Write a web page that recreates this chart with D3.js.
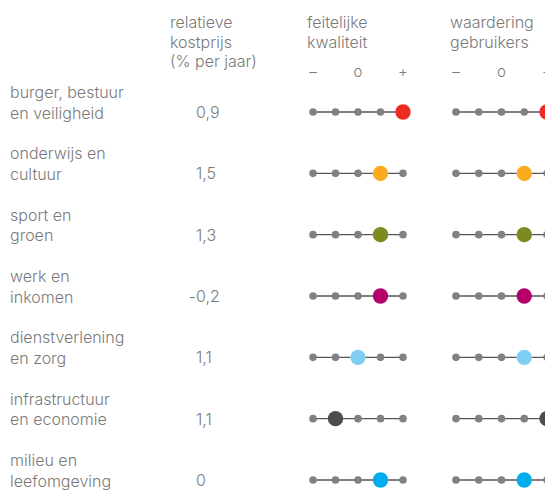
<!DOCTYPE html>
<html><head><meta charset="utf-8">
<script src="https://cdn.jsdelivr.net/npm/d3@7"></script>
<style>body{margin:0;background:#fff}svg{display:block}text{font-family:Inter,"Open Sans",sans-serif;fill:#7a7a7a;font-weight:300}</style>
</head><body><div id="chart"></div>
<script>
const categories = [
  ["burger, bestuur","en veiligheid"],
  ["onderwijs en","cultuur"],
  ["sport en","groen"],
  ["werk en","inkomen"],
  ["dienstverlening","en zorg"],
  ["infrastructuur","en economie"],
  ["milieu en","leefomgeving"]
];
const kostprijs = [0.9, 1.5, 1.3, -0.2, 1.1, 1.1, 0];
const kwaliteit = [5, 4, 4, 4, 3, 2, 4];
const waardering = [5, 4, 4, 4, 4, 5, 4];
const colors = ["#ee2a24","#fbaa1f","#7d8b1e","#b5006b","#7ecef4","#4d4d4f","#00aeef"];
const scaleSteps = [1,2,3,4,5];
const scaleTicks = ["–","o","+"];
const headers = [["relatieve","kostprijs","(% per jaar)"],["feitelijke","kwaliteit"],["waardering","gebruikers"]];

const W = 545, H = 491;
const svg = d3.select("#chart").append("svg").attr("width", W).attr("height", H);

const y = d3.scalePoint().domain(d3.range(categories.length)).range([112, 480]);
const xK = d3.scalePoint().domain(scaleSteps).range([313, 403]);
const xW = d3.scalePoint().domain(scaleSteps).range([456, 547]);
const fmt = v => (v < 0 ? "-" : "") + d3.format(v === 0 ? "d" : ".1f")(Math.abs(v)).replace(".", ",");
const FS = 16;

function multiline(sel, x, y0, lines, dy) {
  lines.forEach((s, j) => {
    sel.append("text").attr("x", x).attr("y", y0 + j * dy).attr("font-size", FS).text(s);
  });
}

// headers
const hx = [170, 307, 450];
headers.forEach((lines, i) => multiline(svg, hx[i], 28, lines, 19.6));
[xK, xW].forEach(sc => {
  [1, 3, 5].forEach((p, i) => {
    svg.append("text").attr("x", sc(p)).attr("y", 77).attr("text-anchor", "middle")
      .attr("font-size", 15).text(scaleTicks[i]);
  });
});

// row labels and values
categories.forEach((lines, i) => {
  const g = svg.append("g");
  multiline(g, 10, y(i) - 14, lines, 20.5);
  const v = kostprijs[i];
  const s = fmt(v);
  if (v < 0) {
    g.append("text").attr("x", 196).attr("y", y(i) + 6).attr("font-size", FS).attr("text-anchor", "end").text("-");
    g.append("text").attr("x", 196).attr("y", y(i) + 6).attr("font-size", FS).text(s.slice(1));
  } else g.append("text").attr("x", 196).attr("y", y(i) + 6).attr("font-size", FS).text(s);
});

function drawScale(sc, vals) {
  categories.forEach((c, i) => {
    const g = svg.append("g");
    g.append("line").attr("x1", sc(1)).attr("x2", sc(5)).attr("y1", y(i)).attr("y2", y(i))
      .attr("stroke", "#555").attr("stroke-width", 1.3);
    g.selectAll("circle.s").data(scaleSteps).join("circle")
      .attr("cx", d => sc(d)).attr("cy", y(i)).attr("r", 3.8).attr("fill", "#808085");
    g.append("circle").attr("cx", sc(vals[i])).attr("cy", y(i)).attr("r", 7.7).attr("fill", colors[i]);
  });
}
drawScale(xK, kwaliteit);
drawScale(xW, waardering);
</script></body></html>
